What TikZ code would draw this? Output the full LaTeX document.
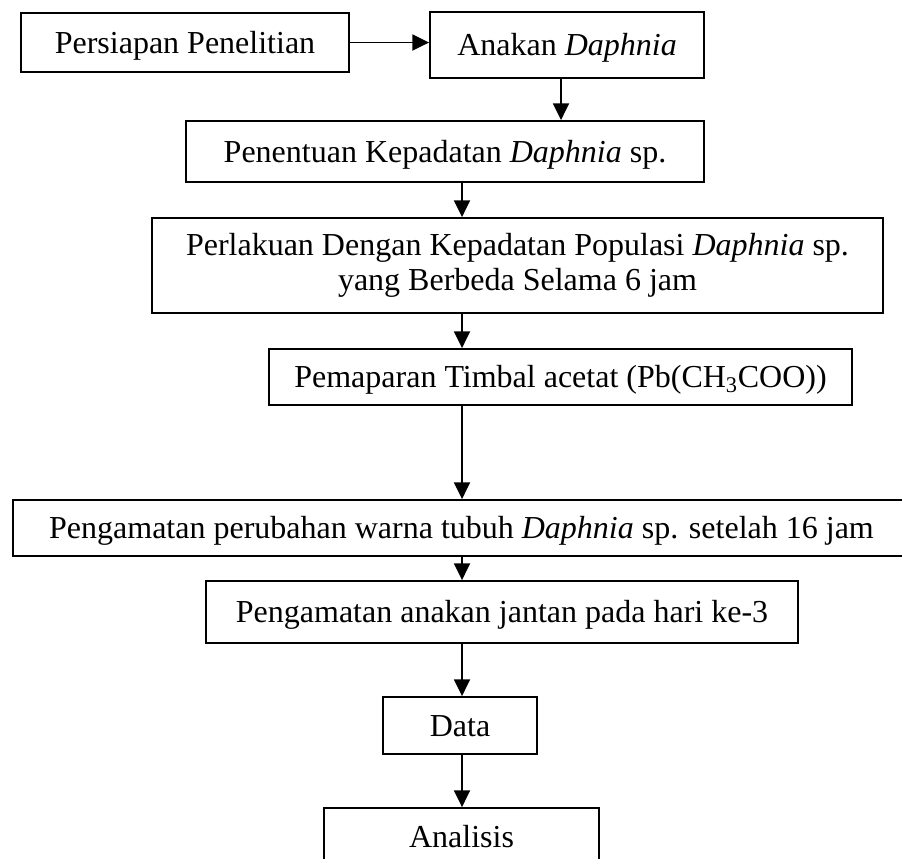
\documentclass[tikz,border=0pt]{standalone}
\usepackage{fontspec}
\setmainfont{Liberation Serif}
\usepackage{tikz}
\usetikzlibrary{arrows.meta}

\tikzset{
	baris/.style={text height=20pt, text depth=4pt},
	kotak/.style 2 args={draw, line width=1.4pt, inner sep=0pt, baris,
		minimum width=#1*0.75pt, minimum height=#2*0.75pt},
	panah/.style={-{Triangle[length=12.5pt,width=12pt]}, line width=1.4pt}
}

\begin{document}
\begin{tikzpicture}[x=0.75pt, y=-0.75pt, every node/.style={font=\fontsize{24}{26.5}\selectfont}]
		
		\clip (0,0) rectangle (902,858);
		
		\node[kotak={328}{59}] (b1) at (185,42.5) {Persiapan Penelitian};
		\node[kotak={274}{66}] (b2) at (567,45) {Anakan \textit{Daphnia}};
		\node[kotak={518}{61}] (b3) at (445,151.5) {Penentuan Kepadatan \textit{Daphnia} sp.};
		\node[kotak={731}{95}, text height=, text depth=, align=center] (b4) at (517.5,265.5)
			{Perlakuan Dengan Kepadatan Populasi \textit{Daphnia} sp.\\ yang Berbeda Selama 6 jam};
		\node[kotak={583}{56}] (b5) at (560.5,377) {Pemaparan Timbal acetat (Pb(CH\textsubscript{3}COO))};
		\node[kotak={897}{56}] (b6) at (461.5,528) {Pengamatan perubahan warna tubuh \textit{Daphnia} sp. setelah 16 jam};
		\node[kotak={592}{62}] (b7) at (502,612) {Pengamatan anakan jantan pada hari ke-3};
		\node[kotak={154}{57}] (data) at (460,725.5) {Data};
		\node[kotak={275}{57}] (analisis) at (461.5,836.5) {Analisis};
		
		\coordinate (kanan) at (561,0);
		\coordinate (kiri) at (462,0);
		
		\draw[panah] (b1.east) -- (b1.east -| b2.west);
		\draw[panah] (b2.south -| kanan) -- (b3.north -| kanan);
		
		\foreach \a/\b in {b3/b4, b4/b5, b5/b6, b6/b7, b7/data, data/analisis}
		\draw[panah] (\a.south -| kiri) -- (\b.north -| kiri);
		
	\end{tikzpicture}
\end{document}
